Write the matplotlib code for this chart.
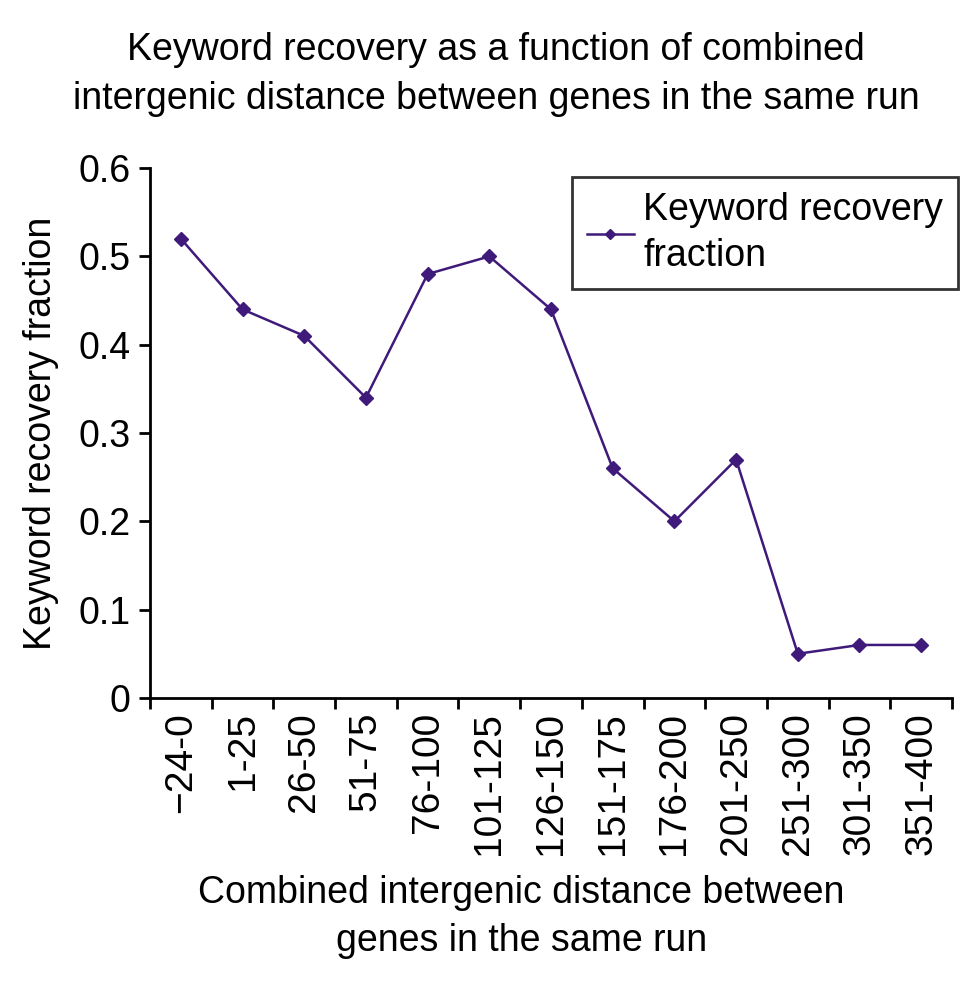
import matplotlib.pyplot as plt

plt.rcParams['font.family'] = ['Liberation Sans', 'DejaVu Sans']

categories = ['\u221224-0', '1-25', '26-50', '51-75', '76-100', '101-125', '126-150',
              '151-175', '176-200', '201-250', '251-300', '301-350', '351-400']
recovery = [0.52, 0.44, 0.41, 0.34, 0.48, 0.50, 0.44, 0.26, 0.20, 0.27, 0.05, 0.06, 0.06]
y_ticks = [0, 0.1, 0.2, 0.3, 0.4, 0.5, 0.6]

line_color = '#3f1a7a'
fs = 27


def plot_recovery():
    fig = plt.figure(figsize=(9.69, 9.83), dpi=100)
    ax = fig.add_axes([0.1548, 0.290, 0.8277, 0.539])

    x = list(range(len(categories)))
    ax.plot(x, recovery, color=line_color, linewidth=1.8, marker='D',
            markersize=7.5, label='Keyword recovery\nfraction')

    ax.set_xlim(-0.5, len(categories) - 0.5)
    ax.set_ylim(0, 0.6)
    ax.set_yticks(y_ticks)
    ax.set_yticklabels(['0'] + [f'{v:.1f}' for v in y_ticks[1:]], fontsize=fs)

    # ticks sit between categories, labels in the middle
    ax.set_xticks([i - 0.5 for i in range(len(categories) + 1)])
    ax.set_xticklabels([])
    ax.set_xticks(x, minor=True)
    ax.set_xticklabels(categories, minor=True, rotation=90, fontsize=fs + 1)
    ax.tick_params(axis='x', which='minor', length=0, pad=10)
    ax.tick_params(axis='both', which='major', direction='out', length=8, width=2)
    ax.tick_params(axis='y', pad=6)

    for side in ['top', 'right']:
        ax.spines[side].set_visible(False)
    for side in ['left', 'bottom']:
        ax.spines[side].set_linewidth(2)

    ax.set_ylabel('Keyword recovery fraction', fontsize=fs, labelpad=14)
    ax.set_xlabel('Combined intergenic distance between\ngenes in the same run',
                  fontsize=fs, linespacing=1.4)
    ax.xaxis.set_label_coords(0.463, -0.335)
    fig.text(0.512, 0.924, 'Keyword recovery as a function of combined\n'
             'intergenic distance between genes in the same run',
             ha='center', va='center', fontsize=fs, linespacing=1.45)

    leg = ax.legend(loc='upper right', bbox_to_anchor=(1.0075, 0.983), fontsize=fs,
                    frameon=True, fancybox=False, handlelength=1.25,
                    handletextpad=0.25, borderpad=0.4, borderaxespad=0,
                    markerscale=0.7)
    leg.get_frame().set_edgecolor('black')
    leg.get_frame().set_linewidth(2)
    for t in leg.get_texts():
        t.set_linespacing(1.35)

    fig.savefig('out.png', dpi=100)
    plt.close(fig)


if __name__ == '__main__':
    plot_recovery()
